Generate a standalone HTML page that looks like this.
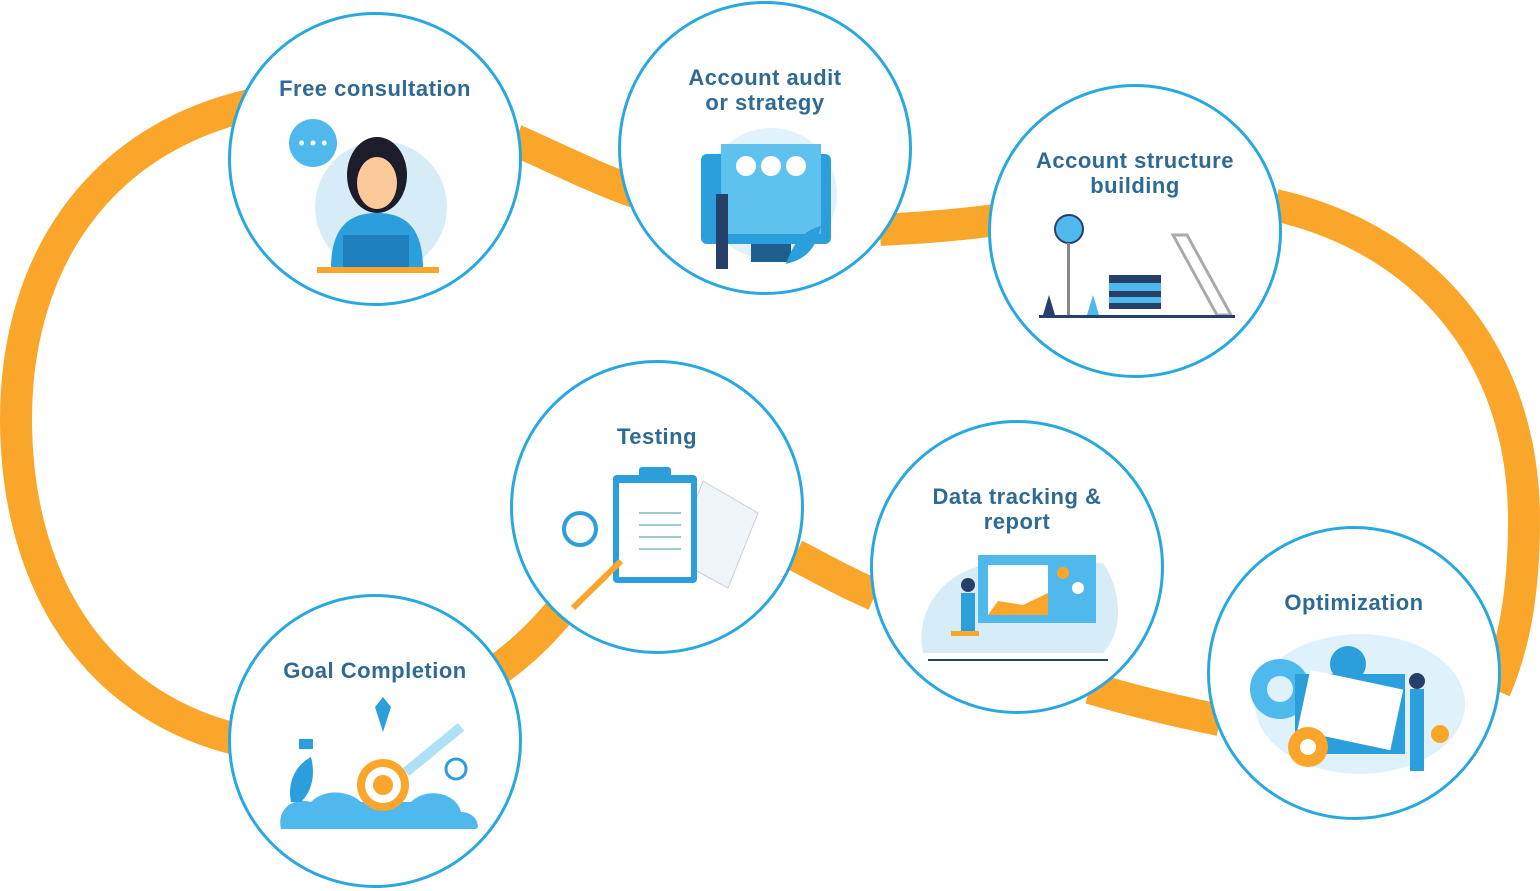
<!DOCTYPE html>
<html><head><meta charset="utf-8"><style>
html,body{margin:0;padding:0;background:#fff;}
body{width:1540px;height:891px;position:relative;overflow:hidden;font-family:"Liberation Sans",sans-serif;}
.c{position:absolute;width:288px;height:288px;border:3px solid #29a8e0;border-radius:50%;background:#fff;box-sizing:content-box;}
.t{position:absolute;left:0;width:100%;text-align:center;color:#2e6a94;font-weight:bold;font-size:22px;letter-spacing:0.5px;line-height:25px;}
svg.ill{position:absolute;left:0;top:0;}
</style></head><body>
<svg width="1540" height="891" style="position:absolute;left:0;top:0">
<g fill="none" stroke="#f9a62b" stroke-width="32" stroke-linecap="butt">
<path d="M250,105 C100,140 16,260 16,420 C17,600 110,710 240,740"/>
<path d="M515,140 C560,160 600,180 635,192"/>
<path d="M880,230 C920,228 960,225 995,220"/>
<path d="M1275,205 C1430,240 1524,360 1524,520 C1524,600 1512,650 1495,690"/>
<path d="M1220,720 C1170,710 1130,700 1090,688"/>
<path d="M875,595 C840,580 815,565 795,555"/>
<path d="M565,605 C545,630 525,650 500,668"/>
</g></svg>

<div class="c" style="left:228px;top:12px"><div class="t" style="top:61px">Free consultation</div>
<svg class="ill" width="288" height="288"><circle cx="150" cy="192" r="66" fill="#d6ecf7"/><circle cx="82" cy="128" r="24" fill="#4fb8ec"/><text x="82" y="134" font-size="18" fill="#fff" text-anchor="middle">• • •</text><ellipse cx="146" cy="160" rx="30" ry="38" fill="#1c1c2a"/><ellipse cx="146" cy="168" rx="20" ry="26" fill="#fcc99a"/><path d="M100,254 C100,210 120,198 146,198 C172,198 192,210 192,254Z" fill="#2b9fdb"/><rect x="112" y="220" width="66" height="34" fill="#1f7fbf"/><rect x="86" y="252" width="122" height="6" fill="#f9a62b"/></svg></div>

<div class="c" style="left:618px;top:1px"><div class="t" style="top:61px">Account audit<br>or strategy</div>
<svg class="ill" width="288" height="288"><circle cx="150" cy="190" r="66" fill="#e1f2fa"/><rect x="80" y="150" width="130" height="90" rx="6" fill="#2b9fdb"/><rect x="100" y="140" width="100" height="90" fill="#5ec1ee"/><circle cx="125" cy="162" r="10" fill="#fff"/><circle cx="150" cy="162" r="10" fill="#fff"/><circle cx="175" cy="162" r="10" fill="#fff"/><rect x="130" y="240" width="40" height="18" fill="#1f5f8f"/><rect x="95" y="190" width="12" height="75" fill="#27406a"/><path d="M165,260 C175,230 190,225 200,222 C195,245 185,255 165,260Z" fill="#2b9fdb"/></svg></div>

<div class="c" style="left:988px;top:84px"><div class="t" style="top:61px">Account structure<br>building</div>
<svg class="ill" width="288" height="288"><circle cx="78" cy="142" r="14" fill="#4fb8ec" stroke="#27406a" stroke-width="2"/><rect x="76" y="156" width="3" height="72" fill="#888"/><rect x="118" y="188" width="52" height="34" fill="#27406a"/><rect x="118" y="196" width="52" height="8" fill="#4fb8ec"/><rect x="118" y="210" width="52" height="6" fill="#4fb8ec"/><path d="M182,148 L196,148 L240,228 L226,228Z" fill="none" stroke="#aaa" stroke-width="3"/><path d="M52,228 L58,208 L64,228Z" fill="#27406a"/><path d="M96,228 L102,208 L108,228Z" fill="#4fb8ec"/><rect x="48" y="228" width="196" height="3" fill="#27406a"/></svg></div>

<div class="c" style="left:510px;top:360px"><div class="t" style="top:61px">Testing</div>
<svg class="ill" width="288" height="288"><path d="M190,118 L245,150 L215,225 L160,195Z" fill="#eef4f8" stroke="#ccd" /><rect x="100" y="112" width="84" height="108" rx="4" fill="#2b9fdb"/><rect x="106" y="120" width="72" height="94" fill="#fff"/><rect x="126" y="104" width="32" height="14" rx="3" fill="#2b9fdb"/><g stroke="#9cc" stroke-width="2"><line x1="126" y1="150" x2="168" y2="150"/><line x1="126" y1="162" x2="168" y2="162"/><line x1="126" y1="174" x2="168" y2="174"/><line x1="126" y1="186" x2="168" y2="186"/></g><circle cx="67" cy="166" r="16" fill="#fff" stroke="#2b9fdb" stroke-width="4"/><line x1="60" y1="245" x2="108" y2="198" stroke="#f9a62b" stroke-width="6"/></svg></div>

<div class="c" style="left:870px;top:420px"><div class="t" style="top:61px">Data tracking &amp;<br>report</div>
<svg class="ill" width="288" height="288"><path d="M50,230 C40,180 80,140 130,140 L230,140 C250,170 250,210 230,230Z" fill="#d6ecf7"/><rect x="105" y="132" width="118" height="68" fill="#4fb8ec"/><rect x="115" y="142" width="60" height="50" fill="#fff"/><path d="M115,192 L125,178 L150,182 L175,170 L175,192Z" fill="#f9a62b"/><circle cx="190" cy="150" r="6" fill="#f9a62b"/><circle cx="205" cy="165" r="6" fill="#fff"/><rect x="55" y="236" width="180" height="2" fill="#27406a"/><rect x="88" y="170" width="14" height="40" fill="#2b9fdb"/><circle cx="95" cy="162" r="7" fill="#27406a"/><rect x="78" y="208" width="28" height="5" fill="#f9a62b"/></svg></div>

<div class="c" style="left:1207px;top:526px"><div class="t" style="top:61px">Optimization</div>
<svg class="ill" width="288" height="288"><ellipse cx="150" cy="175" rx="105" ry="70" fill="#dff2fb"/><circle cx="70" cy="160" r="30" fill="#4fb8ec"/><circle cx="70" cy="160" r="13" fill="#dff2fb"/><circle cx="138" cy="135" r="18" fill="#2b9fdb"/><rect x="85" y="145" width="110" height="80" fill="#2b9fdb"/><rect x="93" y="150" width="95" height="62" fill="#fff" transform="rotate(12 140 180)"/><circle cx="98" cy="218" r="20" fill="#f9a62b"/><circle cx="98" cy="218" r="8" fill="#fff"/><rect x="200" y="160" width="14" height="82" fill="#2b9fdb"/><circle cx="207" cy="152" r="8" fill="#27406a"/><circle cx="230" cy="205" r="9" fill="#f9a62b"/></svg></div>

<div class="c" style="left:228px;top:594px"><div class="t" style="top:61px">Goal Completion</div>
<svg class="ill" width="288" height="288"><path d="M50,232 C45,210 65,200 80,205 C95,190 120,195 130,205 L180,205 C195,190 225,195 230,215 C245,215 250,230 245,232Z" fill="#4fb8ec"/><circle cx="152" cy="188" r="26" fill="#f9a62b"/><circle cx="152" cy="188" r="18" fill="#fff"/><circle cx="152" cy="188" r="10" fill="#f9a62b"/><path d="M175,175 L230,130" stroke="#aee0f6" stroke-width="10"/><path d="M144,110 L152,135 L160,110 L152,100Z" fill="#2b9fdb"/><circle cx="225" cy="172" r="10" fill="none" stroke="#2b9fdb" stroke-width="3"/><path d="M60,205 C55,180 70,165 80,160 C85,180 80,195 70,205Z" fill="#2b9fdb"/><rect x="68" y="142" width="14" height="10" fill="#2b9fdb"/></svg></div>
</body></html>
